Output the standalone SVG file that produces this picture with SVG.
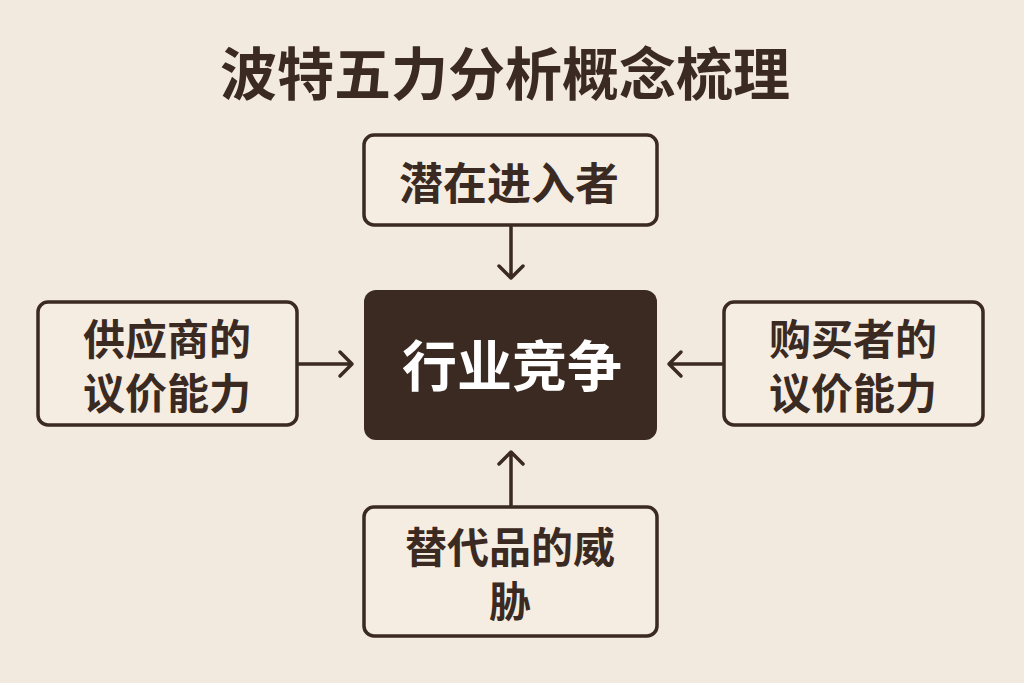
<svg xmlns="http://www.w3.org/2000/svg" width="1024" height="683" viewBox="0 0 1024 683">
<style>
.box{fill:#f5ede2;stroke:#3b2a22;stroke-width:3.5}
.t{font-family:"Noto Sans CJK SC",sans-serif;font-weight:bold;fill:#3b2a22;text-anchor:middle}
.c{stroke:#3b2a22;stroke-width:3.5;fill:none;stroke-linecap:round;stroke-linejoin:round}
</style>
<rect width="1024" height="683" fill="#f3eadf"/>
<text class="t" x="505" y="95" font-size="57">波特五力分析概念梳理</text>
<g id="top"><rect class="box" x="364" y="135" width="293" height="90" rx="10"/><text class="t" x="509" y="200" font-size="44">潜在进入者</text></g>
<g id="center"><rect x="364" y="290" width="293" height="150" rx="12" fill="#3b2a22"/><text class="t" x="512" y="386" font-size="55" style="fill:#fff">行业竞争</text></g>
<g id="left"><rect class="box" x="38" y="302" width="259" height="123" rx="10"/><text class="t" x="167" y="355" font-size="42">供应商的</text><text class="t" x="167" y="409" font-size="42">议价能力</text></g>
<g id="right"><rect class="box" x="724" y="302" width="259" height="123" rx="10"/><text class="t" x="853" y="355" font-size="42">购买者的</text><text class="t" x="853" y="409" font-size="42">议价能力</text></g>
<g id="bottom"><rect class="box" x="364" y="507" width="293" height="129" rx="10"/><text class="t" x="510" y="563" font-size="42">替代品的威</text><text class="t" x="510" y="617" font-size="42">胁</text></g>
<g id="connectors">
<path class="c" d="M511 227V278M499 266L511 278L523 266"/>
<path class="c" d="M299 364H352M340 352L352 364L340 376"/>
<path class="c" d="M722 364H669M681 352L669 364L681 376"/>
<path class="c" d="M511 505V452M499 464L511 452L523 464"/>
</g>
</svg>
